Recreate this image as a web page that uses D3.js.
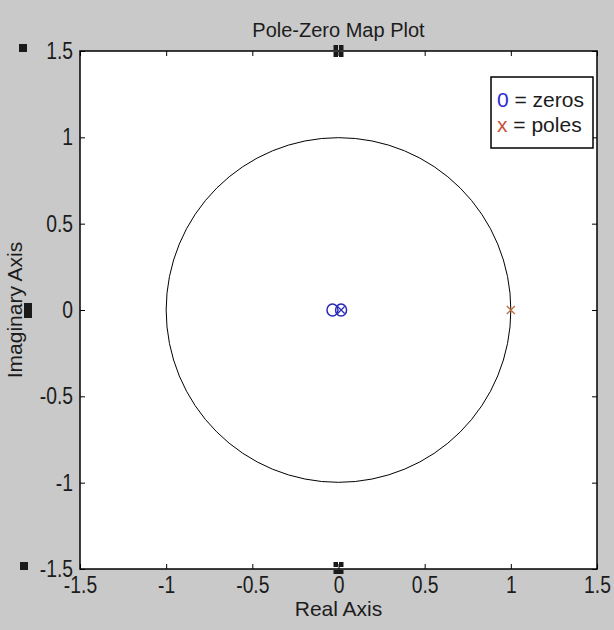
<!DOCTYPE html>
<html>
<head>
<meta charset="utf-8">
<script src="https://cdn.jsdelivr.net/npm/d3@7"></script>
<style>
  html, body { margin: 0; padding: 0; background: #c9c9c9; }
  svg { display: block; }
  text { font-family: "Liberation Sans", Arial, sans-serif; fill: #1c1c1c; }
</style>
</head>
<body>
<svg id="chart" width="614" height="630"></svg>
<script>
// Pole-zero map data
const title = "Pole-Zero Map Plot";
const xLabel = "Real Axis";
const yLabel = "Imaginary Axis";
const xTicks = [-1.5, -1, -0.5, 0, 0.5, 1, 1.5];
const yTicks = [-1.5, -1, -0.5, 0, 0.5, 1, 1.5];
const zerosRe = [-0.035, 0.015];
const zerosIm = [0, 0];
const polesRe = [1];
const polesIm = [0];
const legendItems = [
  { sym: "0", text: " = zeros", color: "#2a2ad0" },
  { sym: "x", text: " = poles", color: "#c8503a" }
];

const svg = d3.select("#chart");
const W = 614, H = 630;
const plot = { left: 80, right: 597, top: 51, bottom: 569 };

svg.append("rect").attr("width", W).attr("height", H).attr("fill", "#c9c9c9");

const x = d3.scaleLinear().domain([-1.5, 1.5]).range([plot.left, plot.right]);
const y = d3.scaleLinear().domain([-1.5, 1.5]).range([plot.bottom, plot.top]);

// plot area
svg.append("rect")
  .attr("x", plot.left).attr("y", plot.top)
  .attr("width", plot.right - plot.left).attr("height", plot.bottom - plot.top)
  .attr("fill", "#ffffff");

const tickLen = 5;
const fmt = d => String(d);
const squeeze = 0.84;   // tick labels use a tall, narrow face

// axes: ticks pointing inward on all four sides
const axB = d3.axisBottom(x).tickValues(xTicks).tickSizeInner(-tickLen).tickSizeOuter(0).tickPadding(8).tickFormat(fmt);
const axT = d3.axisTop(x).tickValues(xTicks).tickSizeInner(-tickLen).tickSizeOuter(0).tickFormat("");
const axL = d3.axisLeft(y).tickValues(yTicks).tickSizeInner(-tickLen).tickSizeOuter(0).tickPadding(7).tickFormat(fmt);
const axR = d3.axisRight(y).tickValues(yTicks).tickSizeInner(-tickLen).tickSizeOuter(0).tickFormat("");

function styleAxis(g) {
  g.select(".domain").remove();
  g.selectAll(".tick line").attr("stroke", "#000").attr("stroke-width", 1);
  g.selectAll(".tick text")
    .attr("font-size", 23).attr("fill", "#1c1c1c")
    .attr("font-family", "'Liberation Sans', Arial, sans-serif")
    .attr("x", function () { return (+d3.select(this).attr("x") || 0) / squeeze; })
    .attr("transform", `scale(${squeeze},1)`);
}
svg.append("g").attr("transform", `translate(0,${plot.bottom})`).call(axB).call(styleAxis);
svg.append("g").attr("transform", `translate(0,${plot.top})`).call(axT).call(styleAxis);
svg.append("g").attr("transform", `translate(${plot.left},0)`).call(axL).call(styleAxis);
svg.append("g").attr("transform", `translate(${plot.right},0)`).call(axR).call(styleAxis);

// frame
svg.append("rect")
  .attr("x", plot.left).attr("y", plot.top)
  .attr("width", plot.right - plot.left).attr("height", plot.bottom - plot.top)
  .attr("fill", "none").attr("stroke", "#000").attr("stroke-width", 1.5);

// unit circle
svg.append("circle")
  .attr("cx", x(0)).attr("cy", y(0))
  .attr("r", x(1) - x(0))
  .attr("fill", "none").attr("stroke", "#000").attr("stroke-width", 1);

// zeros
const zeros = zerosRe.map((re, i) => ({ re, im: zerosIm[i] }));
svg.append("g").selectAll("ellipse").data(zeros).join("ellipse")
  .attr("cx", d => x(d.re)).attr("cy", d => y(d.im))
  .attr("rx", 5.5).attr("ry", 6)
  .attr("fill", "none").attr("stroke", "#2a2ab8").attr("stroke-width", 1.5);
// cross drawn through the zero closest to the origin
const zc = zeros[zeros.length - 1];
svg.append("path")
  .attr("d", `M${x(zc.re) - 3.5},${y(zc.im) - 3.5}L${x(zc.re) + 3.5},${y(zc.im) + 3.5}M${x(zc.re) + 3.5},${y(zc.im) - 3.5}L${x(zc.re) - 3.5},${y(zc.im) + 3.5}`)
  .attr("stroke", "#2a2ab8").attr("stroke-width", 1.2);

// poles
const poles = polesRe.map((re, i) => ({ re, im: polesIm[i] }));
svg.append("g").selectAll("path").data(poles).join("path")
  .attr("d", d => {
    const cx = x(d.re), cy = y(d.im), s = 4;
    return `M${cx - s},${cy - s}L${cx + s},${cy + s}M${cx + s},${cy - s}L${cx - s},${cy + s}`;
  })
  .attr("stroke", "#c06a3a").attr("stroke-width", 1.3);

// legend
const lg = { x: 491, y: 77, w: 102, h: 71 };
svg.append("rect")
  .attr("x", lg.x).attr("y", lg.y).attr("width", lg.w).attr("height", lg.h)
  .attr("fill", "#fff").attr("stroke", "#000").attr("stroke-width", 1.5);
legendItems.forEach((it, i) => {
  const t = svg.append("text")
    .attr("x", lg.x + 6).attr("y", lg.y + 30 + i * 25)
    .attr("font-size", 21);
  t.append("tspan").attr("fill", it.color).style("fill", it.color).text(it.sym);
  t.append("tspan").text(it.text);
});

// title and axis labels
svg.append("text").attr("x", (plot.left + plot.right) / 2).attr("y", 37)
  .attr("text-anchor", "middle").attr("font-size", 20).text(title);
svg.append("text").attr("x", (plot.left + plot.right) / 2).attr("y", 616)
  .attr("text-anchor", "middle").attr("font-size", 21).text(xLabel);
svg.append("text")
  .attr("transform", `translate(22,${y(0)}) rotate(-90)`)
  .attr("text-anchor", "middle").attr("font-size", 21).text(yLabel);

// small black marker squares along the frame
const markers = [
  [19, 44, 8, 8], [20, 562, 8, 8], [24, 303, 8, 15],
  [x(0) - 5, plot.top - 6, 4.5, 5], [x(0) + 0.5, plot.top - 6, 4.5, 5],
  [x(0) - 5, plot.top + 1, 4.5, 5], [x(0) + 0.5, plot.top + 1, 4.5, 5],
  [x(0) - 5, plot.bottom - 7, 4.5, 5], [x(0) + 0.5, plot.bottom - 7, 4.5, 5],
  [x(0) - 5, plot.bottom + 1, 10, 4]
];
svg.append("g").selectAll("rect").data(markers).join("rect")
  .attr("x", d => d[0]).attr("y", d => d[1]).attr("width", d => d[2]).attr("height", d => d[3])
  .attr("fill", "#1a1a1a");
</script>
</body>
</html>
